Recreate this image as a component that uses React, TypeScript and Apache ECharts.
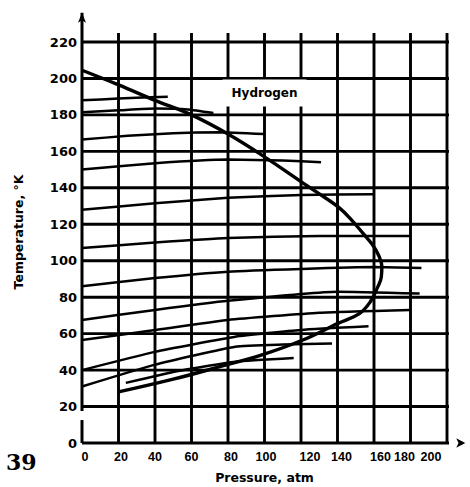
import React, { useEffect, useRef } from "react";
import * as echarts from "echarts";

// ---------- data ----------
const P_TICKS = [0, 20, 40, 60, 80, 100, 120, 140, 160, 180, 200];
const T_TICKS = [0, 20, 40, 60, 80, 100, 120, 140, 160, 180, 200, 220];

// inversion curve [pressure atm, temperature K]
const INVERSION_CURVE = [
  [0, 204.5], [20, 196.5], [40, 188], [60, 180], [80, 169.5], [100, 157],
  [120, 143.4], [128, 138], [141, 129], [148, 122], [154, 115], [159, 109],
  [162.5, 103], [164.3, 97], [164, 91], [162, 85.5], [158, 77.5], [152, 71],
  [140, 65.5], [121, 56.5], [99, 48.5], [76, 42], [50, 35], [20, 28],
];

// isenthalps [pressure atm, temperature K]
const ISENTHALP_1 = [[0, 188], [20, 189], [47, 190]];
const ISENTHALP_2 = [[0, 181.5], [20, 182.5], [40, 183.5], [58, 183], [72, 181]];
const ISENTHALP_3 = [[0, 166.5], [25, 168.5], [50, 170], [75, 170.5], [100, 169.5]];
const ISENTHALP_4 = [[0, 150], [40, 153.5], [80, 155.5], [110, 155], [131, 154]];
const ISENTHALP_5 = [[0, 128], [40, 131.5], [80, 134.5], [120, 136], [160, 136.5]];
const ISENTHALP_6 = [[0, 107], [40, 110], [80, 112.5], [130, 113.5], [180, 113.5]];
const ISENTHALP_7 = [[0, 86], [40, 90.5], [80, 94], [120, 95.5], [160, 96.5], [186, 96]];
const ISENTHALP_8 = [[0, 67.5], [40, 73], [80, 78], [140, 83], [185, 82]];
const ISENTHALP_9 = [[0, 56.5], [40, 62], [80, 67.5], [130, 71.5], [180, 73]];
const ISENTHALP_10 = [[0, 40], [40, 50], [84, 58.3], [120, 62], [157, 64]];
const ISENTHALP_11 = [[0, 31], [40, 43], [84, 52.8], [110, 54], [137, 54.6]];
const ISENTHALP_12 = [[24, 33], [50, 39], [84, 44.6], [116, 46.6]];

const ISENTHALPS = [
  ISENTHALP_1, ISENTHALP_2, ISENTHALP_3, ISENTHALP_4, ISENTHALP_5, ISENTHALP_6,
  ISENTHALP_7, ISENTHALP_8, ISENTHALP_9, ISENTHALP_10, ISENTHALP_11, ISENTHALP_12,
];

const CURVE_LABEL = "Hydrogen";
const CURVE_LABEL_AT = [100, 192];
const X_TITLE = "Pressure, atm";
const Y_TITLE = "Temperature, °K";
const FIGURE_NO = "39";

// ---------- styling ----------
const GRID_P_END = 204.4;
const GRID_T_END = 225;
const AXIS_P_END = 210;
const AXIS_T_END = 236;
const Y_AXIS_GAP = [12.6, 17.5];
const X_LABEL_SHIFT: Record<number, number> = {
  0: 3, 20: 2.5, 40: 0, 60: 0, 80: 3, 100: 1.5, 120: 9, 140: 4, 160: 6.5, 180: -6, 200: -16,
};
const INK = "#000";

function seg(points: any[], width = 2.7, extra: any = {}) {
  return {
    type: "line",
    data: points,
    clip: false,
    symbol: "none",
    showSymbol: true,
    silent: true,
    animation: false,
    lineStyle: { color: INK, width },
    itemStyle: { color: INK },
    z: 2,
    ...extra,
  };
}

export default function App() {
  const ref = useRef<HTMLDivElement>(null);

  useEffect(() => {
    if (!ref.current) return;
    const chart = echarts.init(ref.current, null, { renderer: "svg" });

    const rich: Record<string, any> = {};
    P_TICKS.forEach((p) => {
      const d = X_LABEL_SHIFT[p] || 0;
      rich["s" + p] = {
        fontFamily: "'Liberation Sans', sans-serif",
        fontWeight: "bold",
        fontSize: 12.5,
        color: INK,
        padding: d >= 0 ? [0, 0, 0, 2 * d] : [0, -2 * d, 0, 0],
      };
    });

    const series: any[] = [];
    // horizontal grid lines
    T_TICKS.filter((t) => t > 0).forEach((t) => {
      series.push(seg([[0, t], [GRID_P_END, t]], 2.9));
    });
    // vertical grid lines
    P_TICKS.filter((p) => p > 0).forEach((p) => {
      series.push(seg([[p, 0], [p, GRID_T_END]], 2.9));
    });
    // x axis with arrow
    series.push(
      seg(
        [
          [0, 0],
          {
            value: [AXIS_P_END, 0],
            symbol: "arrow",
            symbolSize: [7, 9],
            symbolRotate: -90,
          },
        ],
        2.9
      )
    );
    // y axis (broken near the bottom)
    series.push(seg([[0, 0], [0, Y_AXIS_GAP[0]]], 3));
    series.push(
      seg(
        [
          [0, Y_AXIS_GAP[1]],
          { value: [0, AXIS_T_END], symbol: "arrow", symbolSize: [6, 10] },
        ],
        3
      )
    );
    // isenthalps
    ISENTHALPS.forEach((iso) => {
      series.push(seg(iso, 2.5, { smooth: 0.15, z: 3 }));
    });
    // inversion curve
    series.push(seg(INVERSION_CURVE, 3.4, { smooth: 0.4, z: 4 }));
    // curve label on a white patch
    series.push({
      type: "scatter",
      data: [CURVE_LABEL_AT],
      symbol: "rect",
      symbolSize: [84, 27],
      itemStyle: { color: "#fff", borderWidth: 0, opacity: 1 },
      silent: true,
      z: 10,
      label: {
        show: true,
        position: "inside",
        formatter: CURVE_LABEL,
        color: INK,
        fontFamily: "'DejaVu Sans', sans-serif",
        fontWeight: "bold",
        fontSize: 12,
        textBorderWidth: 0,
      },
    });

    chart.setOption({
      animation: false,
      backgroundColor: "#fff",
      grid: { left: 82, right: 23, top: 42, bottom: 44, outerBoundsMode: "none" },
      xAxis: {
        type: "value",
        min: 0,
        max: 200,
        interval: 20,
        axisLine: { show: false },
        axisTick: { show: false },
        splitLine: { show: false },
        axisLabel: {
          margin: 7,
          formatter: (v: number) => `{s${v}|${v}}`,
          rich,
        },
        name: X_TITLE,
        nameLocation: "middle",
        nameGap: 28,
        nameTextStyle: {
          fontFamily: "'DejaVu Sans', sans-serif",
          fontWeight: "bold",
          fontSize: 12.5,
          color: INK,
        },
      },
      yAxis: {
        type: "value",
        min: 0,
        max: 220,
        interval: 20,
        axisLine: { show: false },
        axisTick: { show: false },
        splitLine: { show: false },
        axisLabel: {
          margin: 5,
          fontFamily: "'DejaVu Sans', sans-serif",
          fontWeight: "bold",
          fontSize: 13,
          color: INK,
        },
      },
      graphic: [
        {
          type: "text",
          x: 18,
          y: 232,
          rotation: Math.PI / 2,
          style: {
            text: Y_TITLE,
            fill: INK,
            fontFamily: "'DejaVu Sans', sans-serif",
            fontWeight: "bold",
            fontSize: 12.5,
            align: "center",
            verticalAlign: "middle",
          },
        },
        {
          type: "text",
          x: 6,
          y: 462,
          style: {
            text: FIGURE_NO,
            fill: INK,
            fontFamily: "'DejaVu Serif', serif",
            fontWeight: "bold",
            fontSize: 22,
            align: "left",
            verticalAlign: "middle",
          },
        },
      ],
      series,
    });

    return () => chart.dispose();
  }, []);

  return (
    <div
      ref={ref}
      style={{ position: "fixed", left: 0, top: 0, width: 470, height: 487, background: "#fff" }}
    />
  );
}
